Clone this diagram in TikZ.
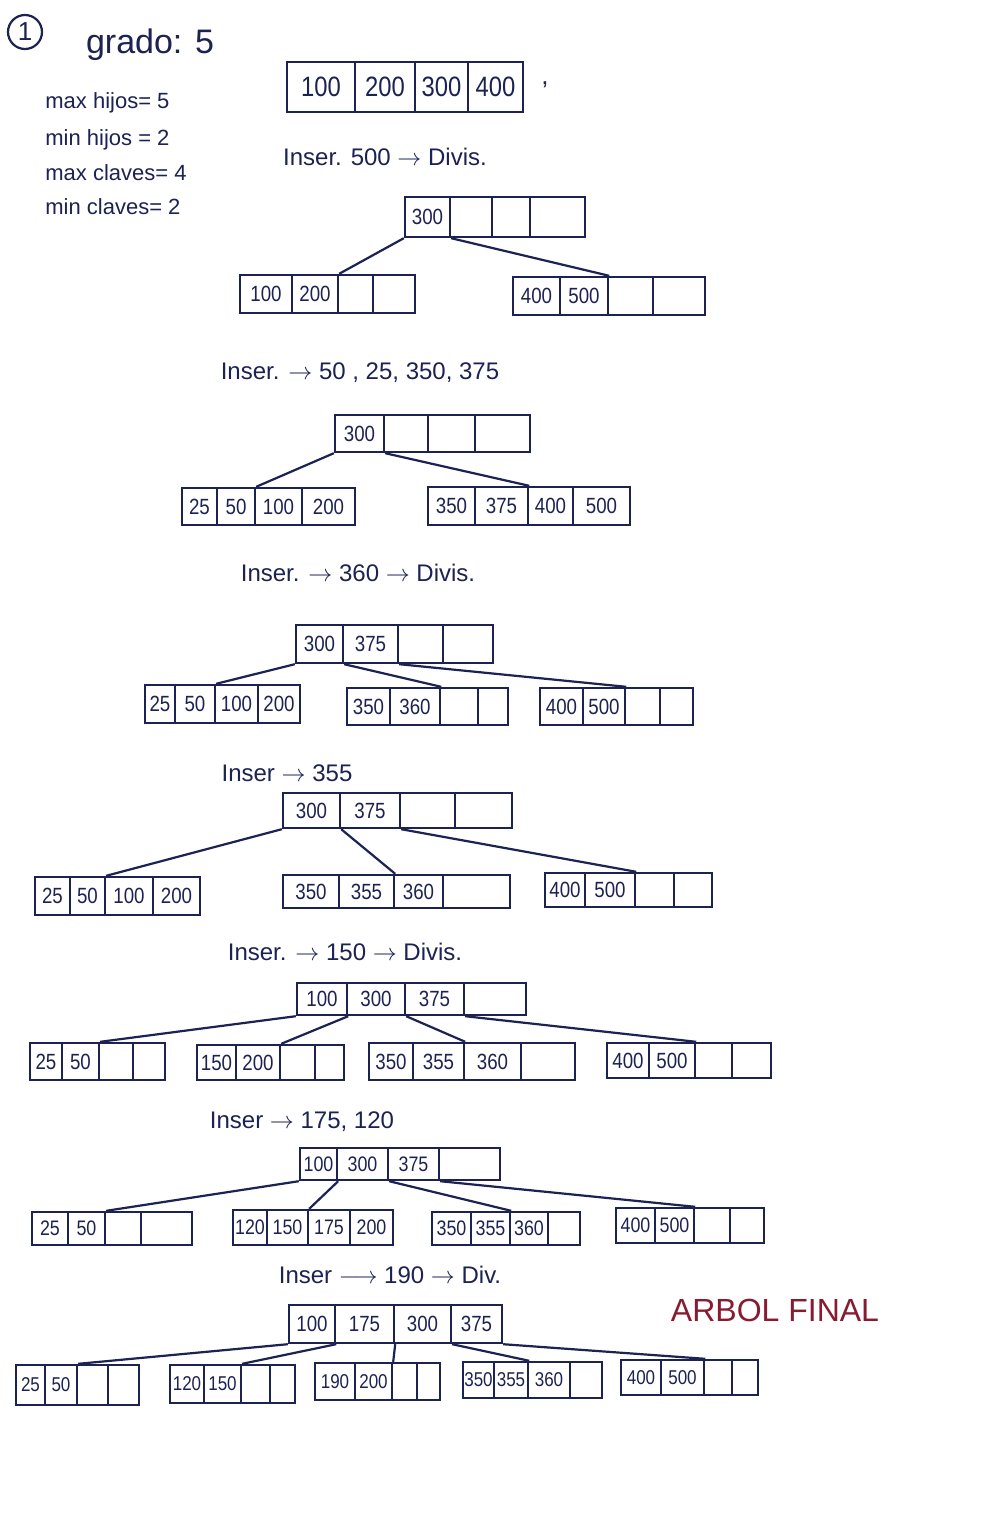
\documentclass[tikz,border=0pt]{standalone}
\usepackage{fontspec}
\setmainfont{Liberation Sans}
\newfontfamily\narrowfont[FakeStretch=0.85]{Liberation Sans}
\usetikzlibrary{fit}
\definecolor{ink}{RGB}{28,34,82}
\definecolor{redink}{RGB}{135,28,48}
\def\cf{\narrowfont\fontsize{11}{13}\selectfont}
\tikzset{
  cellbox/.style={draw=ink, line width=1.2pt, inner sep=0pt},
  celltext/.style={text=ink, font=\cf, inner sep=0pt},
  link/.style={draw=ink, line width=1.1pt},
  title/.style={text=ink, font=\fontsize{12}{14}\selectfont, inner sep=0pt},
  note/.style={text=ink, font=\fontsize{11}{13}\selectfont, anchor=west, inner sep=0pt},
}
\newcommand\bcell[6]{%
  \coordinate (tmpa) at (#2,#4);
  \coordinate (tmpb) at (#3,#5);
  \node[cellbox, fit=(tmpa)(tmpb), label={[celltext]center:#6}] (#1) {};
}
\def\btparse#1/#2/#3/#4\relax{\def\ta{#1}\def\tb{#2}\def\tc{#3}\def\td{#4}}
\newcommand\btnode[9]{%
  \btparse#9\relax
  \bcell{#1a}{#4}{#5}{#2}{#3}{\ta}%
  \bcell{#1b}{#5}{#6}{#2}{#3}{\tb}%
  \bcell{#1c}{#6}{#7}{#2}{#3}{\tc}%
  \bcell{#1d}{#7}{#8}{#2}{#3}{\td}%
}
\begin{document}
\begin{tikzpicture}[x=0.5pt, y=-0.5pt]
\fill[white] (0,0) rectangle (992,1520);
\useasboundingbox (0,0) rectangle (992,1520);

% header
\node[circle, draw=ink, line width=1.1pt, minimum size=17pt, inner sep=0pt, text=ink, font=\fontsize{13}{15}\selectfont] (num) at (25,32) {1};
\node[text=ink, font=\fontsize{17}{20}\selectfont] (grado) at (150,45) {grado: 5};
\node[note] (n1) at (45,103) {max hijos= 5};
\node[note] (n2) at (45,140) {min hijos = 2};
\node[note] (n3) at (45,173) {max claves= 4};
\node[note] (n4) at (45,207) {min claves= 2};

% tree 0
\def\cf{\narrowfont\fontsize{14}{16}\selectfont}
\btnode{t0r}{62}{112}{287}{355}{415}{468}{523}{100/200/300/400}
\node[text=ink, font=\fontsize{13}{15}\selectfont] (comma) at (545,85) {,};

\node[title] (s1) at (385,157) {Inser. 500 $\rightarrow$ Divis.};

% tree 1
\def\cf{\narrowfont\fontsize{11}{13}\selectfont}
\btnode{t1r}{197}{237}{405}{450}{492}{530}{585}{300///}
\btnode{t1l}{275}{313}{240}{292}{338}{373}{415}{100/200//}
\btnode{t1g}{277}{315}{513}{560}{608}{653}{705}{400/500//}
\draw[link] (t1ra.south west) -- (t1lb.north east);
\draw[link] (t1ra.south east) -- (t1gb.north east);

\node[title] (s2) at (360,373) {Inser. $\rightarrow$ 50 , 25, 350, 375};

% tree 2
\btnode{t2r}{415}{452}{335}{384}{428}{475}{530}{300///}
\btnode{t2l}{488}{525}{182}{217}{255}{302}{355}{25/50/100/200}
\btnode{t2g}{487}{525}{428}{475}{528}{573}{630}{350/375/400/500}
\draw[link] (t2ra.south west) -- (t2lb.north east);
\draw[link] (t2ra.south east) -- (t2gb.north east);

\node[title] (s3) at (358,573) {Inser. $\rightarrow$ 360 $\rightarrow$ Divis.};

% tree 3
\btnode{t3r}{625}{663}{296}{343}{398}{443}{493}{300/375//}
\btnode{t3l}{685}{723}{145}{175}{215}{258}{300}{25/50/100/200}
\btnode{t3m}{688}{725}{347}{390}{440}{478}{508}{350/360//}
\btnode{t3g}{688}{725}{540}{583}{625}{660}{693}{400/500//}
\draw[link] (t3ra.south west) -- (t3lb.north east);
\draw[link] (t3ra.south east) -- (t3mb.north east);
\draw[link] (t3rb.south east) -- (t3gb.north east);

\node[title] (s4) at (287,773) {Inser $\rightarrow$ 355};

% tree 4
\btnode{t4r}{793}{828}{283}{340}{400}{455}{512}{300/375//}
\btnode{t4l}{877}{915}{35}{70}{105}{153}{200}{25/50/100/200}
\btnode{t4m}{875}{908}{283}{339}{394}{443}{510}{350/355/360/}
\btnode{t4g}{873}{907}{545}{585}{635}{674}{712}{400/500//}
\draw[link] (t4ra.south west) -- (t4lb.north east);
\draw[link] (t4ra.south east) -- (t4mb.north east);
\draw[link] (t4rb.south east) -- (t4gb.north east);

\node[title] (s5) at (345,952) {Inser. $\rightarrow$ 150 $\rightarrow$ Divis.};

% tree 5
\btnode{t5r}{983}{1015}{297}{347}{405}{464}{526}{100/300/375/}
\btnode{t5p}{1043}{1080}{30}{62}{99}{133}{165}{25/50//}
\btnode{t5q}{1045}{1080}{197}{236}{280}{315}{344}{150/200//}
\btnode{t5s}{1043}{1080}{369}{413}{464}{521}{575}{350/355/360/}
\btnode{t5u}{1043}{1078}{607}{649}{695}{732}{771}{400/500//}
\draw[link] (t5ra.south west) -- (t5pb.north east);
\draw[link] (t5ra.south east) -- (t5qb.north east);
\draw[link] (t5rb.south east) -- (t5sb.north east);
\draw[link] (t5rc.south east) -- (t5ub.north east);

\node[title] (s6) at (302,1122) {Inser $\rightarrow$ 175, 120};

% tree 6
\def\cf{\narrowfont\fontsize{10.5}{12}\selectfont}
\btnode{t6r}{1148}{1180}{300}{337}{388}{439}{500}{100/300/375/}
\btnode{t6p}{1212}{1245}{32}{68}{105}{141}{192}{25/50//}
\btnode{t6q}{1210}{1245}{233}{267}{308}{350}{393}{120/150/175/200}
\btnode{t6s}{1212}{1245}{432}{471}{510}{548}{580}{350/355/360/}
\btnode{t6u}{1208}{1243}{616}{655}{694}{730}{764}{400/500//}
\draw[link] (t6ra.south west) -- (t6pb.north east);
\draw[link] (t6ra.south east) -- (t6qb.north east);
\draw[link] (t6rb.south east) -- (t6sb.north east);
\draw[link] (t6rc.south east) -- (t6ub.north east);

\node[title] (s7) at (390,1275) {Inser $\longrightarrow$ 190 $\rightarrow$ Div.};

% tree 7
\def\cf{\narrowfont\fontsize{11}{13}\selectfont}
\btnode{t7r}{1305}{1343}{289}{335}{394}{451}{502}{100/175/300/375}
\def\cf{\narrowfont\fontsize{10}{12}\selectfont}
\btnode{t7p}{1365}{1405}{16}{45}{77}{108}{139}{25/50//}
\btnode{t7q}{1365}{1403}{170}{204}{241}{270}{295}{120/150//}
\btnode{t7s}{1363}{1400}{315}{355}{392}{417}{440}{190/200//}
\btnode{t7t}{1362}{1398}{463}{494}{528}{570}{602}{350/355/360/}
\btnode{t7u}{1360}{1395}{621}{661}{704}{732}{758}{400/500//}
\draw[link] (t7ra.south west) -- (t7pb.north east);
\draw[link] (t7ra.south east) -- (t7qb.north east);
\draw[link] (t7rb.south east) -- (t7sb.north east);
\draw[link] (t7rc.south east) -- (t7tb.north east);
\draw[link] (t7rd.south east) -- (t7ub.north east);

\node[text=redink, font=\fontsize{16}{19}\selectfont] (final) at (775,1310) {ARBOL FINAL};
\end{tikzpicture}
\end{document}
